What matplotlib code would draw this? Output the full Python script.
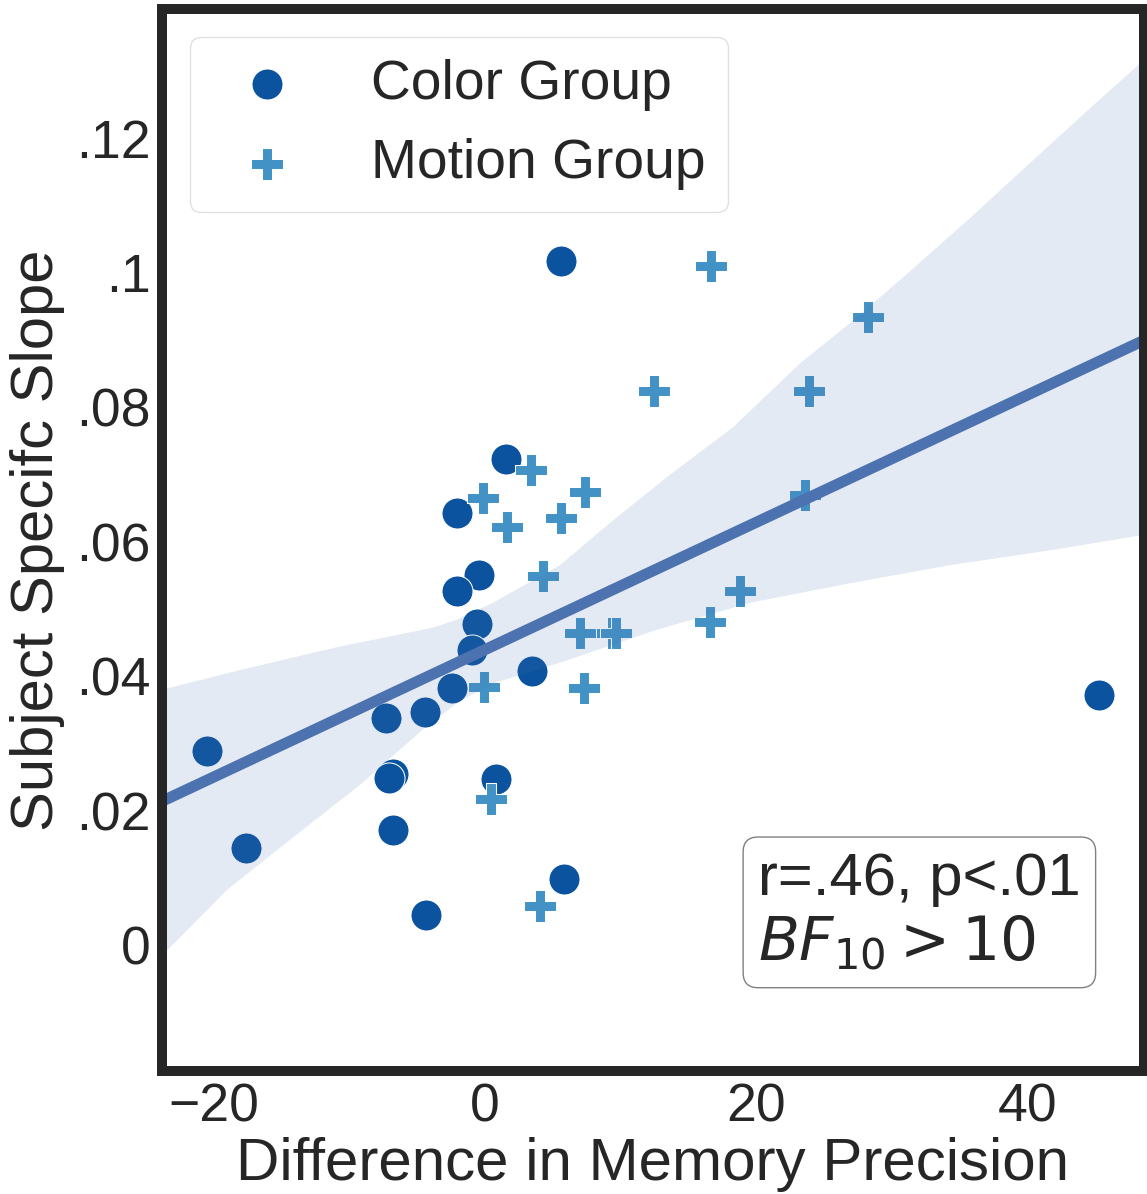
import matplotlib
matplotlib.use("Agg")
import matplotlib.pyplot as plt
import numpy as np

plt.rcParams["font.family"] = ["Liberation Sans", "DejaVu Sans"]
plt.rcParams["mathtext.fontset"] = "dejavusans"

# per-subject values: x = difference in memory precision, y = subject specific slope
color_x = [5.61, 1.53, -2.09, -0.44, -2.07, -0.57, -0.94, 3.49, -2.46, -4.43,
           -7.28, -20.49, -6.77, -7.11, 0.81, -17.64, -6.79, 5.83, -4.38, 45.31]
color_y = [0.1017, 0.0723, 0.0642, 0.0550, 0.0527, 0.0477, 0.0439, 0.0408, 0.0382, 0.0346,
           0.0338, 0.0288, 0.0254, 0.0248, 0.0247, 0.0145, 0.0171, 0.0098, 0.0045, 0.0372]
motion_x = [16.66, 28.29, 12.47, 23.91, 3.39, -0.17, 7.40, 1.65, 5.61, 23.59,
            4.30, 7.03, 9.35, 9.65, 18.84, 16.61, -0.05, 7.31, 0.42, 4.06]
motion_y = [0.1010, 0.0934, 0.0824, 0.0824, 0.0707, 0.0665, 0.0674, 0.0621, 0.0635, 0.0669,
            0.0549, 0.0464, 0.0464, 0.0464, 0.0526, 0.0480, 0.0384, 0.0383, 0.0217, 0.0058]

# 95% band of the fit (bootstrapped in the original analysis)
band_upper_x = [-23.8, -17.86, -10.92, -3.84, -2.07, 0.59, 5.54, 9.23, 13.43, 18.30,
                23.25, 26.94, 30.63, 35.57, 40.44, 45.39, 48.63]
band_upper_y = [0.0380, 0.0410, 0.0443, 0.0472, 0.0484, 0.0509, 0.0565, 0.0628, 0.0696, 0.0770,
                0.0865, 0.0925, 0.0989, 0.1077, 0.1167, 0.1258, 0.1316]
band_lower_x = [-23.8, -19.04, -14.17, -9.23, -4.28, -1.85, 0.59, 5.54, 12.55, 19.56,
                26.94, 34.32, 41.70, 48.63]
band_lower_y = [-0.0015, 0.0082, 0.0160, 0.0238, 0.0326, 0.0363, 0.0389, 0.0420, 0.0468, 0.0509,
                0.0538, 0.0565, 0.0587, 0.0610]

xticks = [-20, 0, 20, 40]
yticks = [0, 0.02, 0.04, 0.06, 0.08, 0.10, 0.12]
ytick_labels = ["0", ".02", ".04", ".06", ".08", ".1", ".12"]
xlim = (-23.84, 48.63)
ylim = (-0.0188, 0.1392)

DARK = "#0b539f"
LIGHT = "#4292c6"
FIT = "#4c72b0"
INK = "#262626"

fig = plt.figure(figsize=(11.47, 11.94), dpi=100)
ax = fig.add_axes([0.1412, 0.1026, 0.8562, 0.8899])

ax.scatter(color_x, color_y, s=500, marker="o", c=DARK, edgecolors="white",
           linewidths=0.75, label="Color Group")
ax.scatter(motion_x, motion_y, s=500, marker="P", c=LIGHT, edgecolors="white",
           linewidths=0.75, label="Motion Group")

# regression over all subjects
all_x = np.array(color_x + motion_x)
all_y = np.array(color_y + motion_y)
slope, icpt = np.polyfit(all_x, all_y, 1)
ax.fill(band_upper_x + band_lower_x[::-1], band_upper_y + band_lower_y[::-1],
        color=FIT, alpha=0.15, lw=0)
xs = np.array(xlim)
ax.plot(xs, icpt + slope * xs, color=FIT, lw=8)

ax.set_xlim(*xlim)
ax.set_ylim(*ylim)
ax.set_xticks(xticks)
ax.set_yticks(yticks)
ax.set_yticklabels(ytick_labels)
ax.tick_params(length=0, pad=8, labelsize=38.5, colors=INK)
for sp in ax.spines.values():
    sp.set_linewidth(7.2)
    sp.set_color(INK)

ax.set_xlabel("Difference in Memory Precision", fontsize=43.3, color=INK, labelpad=3)
ax.set_ylabel("Subject Specifc Slope", fontsize=43, color=INK, labelpad=8)

leg = ax.legend(loc="upper left", fontsize=39.7, frameon=True, fancybox=True,
                handletextpad=0.9)
leg.get_frame().set_edgecolor("#d9d9d9")
for t in leg.get_texts():
    t.set_color(INK)

ax.text(0.607, 0.207, "r=.46, p<.01\n$BF_{10} > 10$", transform=ax.transAxes,
        fontsize=43, color=INK, ha="left", va="top", linespacing=1.15,
        bbox=dict(boxstyle="round,pad=0.25", fc="white", ec="#808080", lw=1))

fig.savefig("out.png", dpi=100)
plt.close(fig)
